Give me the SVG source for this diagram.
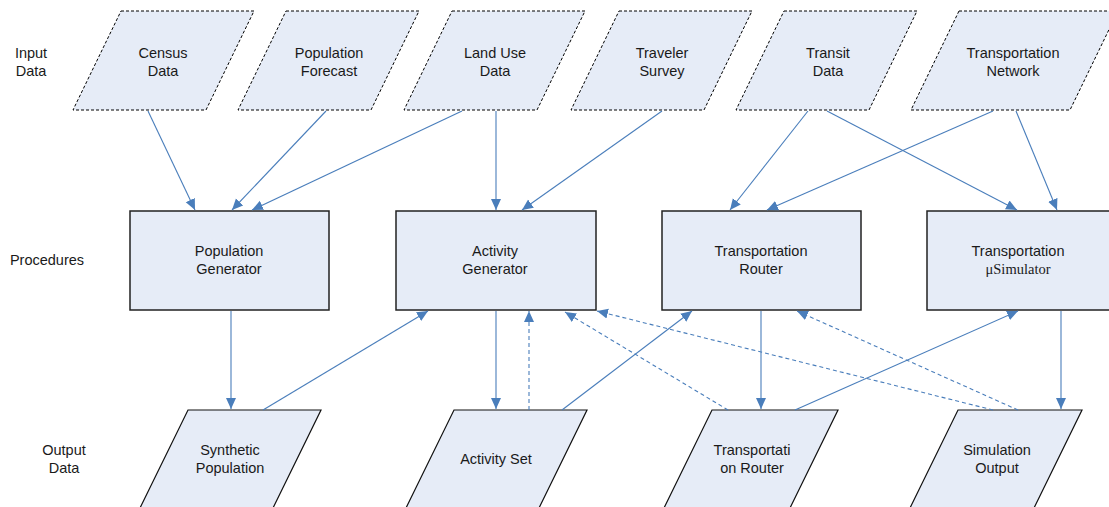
<svg xmlns="http://www.w3.org/2000/svg" width="1109" height="507" viewBox="0 0 1109 507">
<defs>
<style>
.in{fill:#E6ECF7;stroke:#000;stroke-width:1;stroke-dasharray:3,2}
.out{fill:#E6ECF7;stroke:#111;stroke-width:1.2}
.box{fill:#E6ECF7;stroke:#222;stroke-width:1.5}
text{font-family:"Liberation Sans",Arial,sans-serif;font-size:14.5px;fill:#1a1a1a;text-anchor:middle}
.serif{font-family:"Liberation Serif","Times New Roman",serif}
.c{stroke:#4A7EBB;stroke-width:1.1;fill:none;marker-end:url(#ah)}
.d{stroke-dasharray:4,3}
</style>
<marker id="ah" markerUnits="userSpaceOnUse" markerWidth="12" markerHeight="12" viewBox="0 0 12 12" refX="11" refY="6" orient="auto">
<path d="M0,1 L11,6 L0,11 Z" fill="#4A7EBB"/>
</marker>
</defs>
<rect width="1109" height="507" fill="#fff"/>

<g id="labels">
<text x="31" y="58">Input</text>
<text x="31" y="76">Data</text>
<text x="47" y="265">Procedures</text>
<text x="64" y="455">Output</text>
<text x="64" y="473">Data</text>
</g>

<g id="census">
<polygon class="in" points="121,11 254,11 206,110 73,110"/>
<text x="163" y="58">Census</text><text x="163" y="76">Data</text>
</g>
<g id="forecast">
<polygon class="in" points="286,11 419,11 371,110 238,110"/>
<text x="329" y="58">Population</text><text x="329" y="76">Forecast</text>
</g>
<g id="landuse">
<polygon class="in" points="452,11 585,11 537,110 404,110"/>
<text x="495" y="58">Land Use</text><text x="495" y="76">Data</text>
</g>
<g id="traveler">
<polygon class="in" points="619,11 752,11 704,110 571,110"/>
<text x="662" y="58">Traveler</text><text x="662" y="76">Survey</text>
</g>
<g id="transit">
<polygon class="in" points="784,11 917,11 869,110 736,110"/>
<text x="828" y="58">Transit</text><text x="828" y="76">Data</text>
</g>
<g id="network">
<polygon class="in" points="959,11 1118,11 1070,110 911,110"/>
<text x="1013" y="58">Transportation</text><text x="1013" y="76">Network</text>
</g>

<g id="popgen">
<rect class="box" x="130" y="211" width="199" height="99"/>
<text x="229" y="256">Population</text><text x="229" y="274">Generator</text>
</g>
<g id="actgen">
<rect class="box" x="396" y="211" width="200" height="99"/>
<text x="495" y="256">Activity</text><text x="495" y="274">Generator</text>
</g>
<g id="router">
<rect class="box" x="662" y="211" width="199" height="99"/>
<text x="761" y="256">Transportation</text><text x="761" y="274">Router</text>
</g>
<g id="usim">
<rect class="box" x="927" y="211" width="200" height="99"/>
<text x="1018" y="256">Transportation</text><text class="serif" x="1018" y="274">μSimulator</text>
</g>

<g id="synpop">
<polygon class="out" points="188,410 321,410 273,508 140,508"/>
<text x="230" y="455">Synthetic</text><text x="230" y="473">Population</text>
</g>
<g id="actset">
<polygon class="out" points="454,410 587,410 539,508 406,508"/>
<text x="496" y="464">Activity Set</text>
</g>
<g id="routeout">
<polygon class="out" points="712,410 838,410 790,508 664,508"/>
<text x="752" y="455">Transportati</text><text x="752" y="473">on Router</text>
</g>
<g id="simout">
<polygon class="out" points="958,410 1082,410 1034,508 910,508"/>
<text x="997" y="455">Simulation</text><text x="997" y="473">Output</text>
</g>

<g id="connectors">
<line class="c" x1="148" y1="111" x2="195" y2="210"/>
<line class="c" x1="326" y1="111" x2="232" y2="210"/>
<line class="c" x1="462" y1="111" x2="252" y2="210"/>
<line class="c" x1="496" y1="111" x2="496" y2="210"/>
<line class="c" x1="662" y1="111" x2="522" y2="210"/>
<line class="c" x1="808" y1="111" x2="730" y2="210"/>
<line class="c" x1="827" y1="111" x2="1017" y2="210"/>
<line class="c" x1="993" y1="111" x2="767" y2="210"/>
<line class="c" x1="1016" y1="111" x2="1057" y2="210"/>
<line class="c" x1="231" y1="311" x2="231" y2="409"/>
<line class="c" x1="496" y1="311" x2="496" y2="409"/>
<line class="c" x1="761" y1="311" x2="761" y2="409"/>
<line class="c" x1="1061" y1="311" x2="1061" y2="409"/>
<line class="c" x1="263" y1="410" x2="428" y2="311"/>
<line class="c" x1="562" y1="410" x2="692" y2="311"/>
<line class="c" x1="795" y1="410" x2="1018" y2="311"/>
<line class="c d" x1="529" y1="410" x2="529" y2="311"/>
<line class="c d" x1="728" y1="410" x2="565" y2="312"/>
<line class="c d" x1="993" y1="410" x2="597" y2="311"/>
<line class="c d" x1="1018" y1="410" x2="797" y2="311"/>
</g>
</svg>
